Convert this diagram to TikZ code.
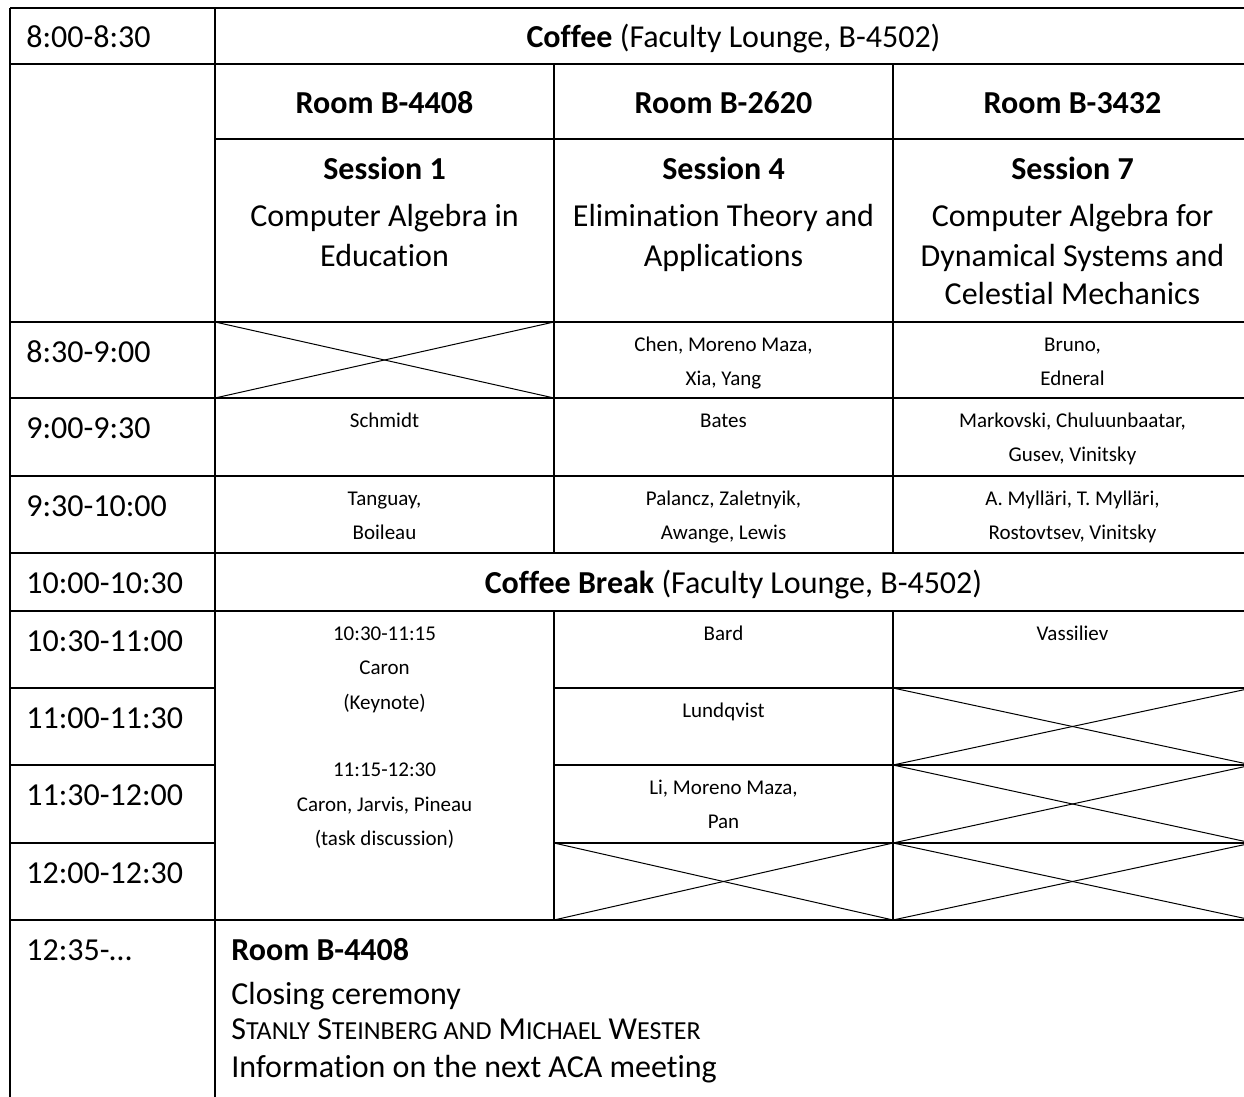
\documentclass[tikz,border=0pt]{standalone}
\usepackage{fontspec}
\setmainfont{Carlito}[Ligatures=CommonOff]
\begin{document}
\begin{tikzpicture}[x=0.5pt,y=-0.5pt,
  tl/.style={line width=0.8pt},
  xl/.style={line width=0.5pt},
  big/.style={font=\fontsize{16}{19}\selectfont, inner sep=0pt, anchor=base},
  bigb/.style={font=\fontsize{16}{19}\selectfont\bfseries, inner sep=0pt, anchor=base},
  sm/.style={font=\fontsize{10.5}{12}\selectfont, inner sep=0pt, anchor=base},
  tm/.style={big, anchor=base west}]
\useasboundingbox (0,0) rectangle (1244,1097);
\clip (0,0) rectangle (1244,1097);
% ---------- grid lines ----------
\draw[tl] (10,8) -- (1252,8);
\draw[tl] (10,64) -- (1252,64);
\draw[tl] (215,139) -- (1252,139);
\foreach \y in {322,398,476,553,611,920} \draw[tl] (10,\y) -- (1252,\y);
\foreach \y in {688,765,843} {\draw[tl] (10,\y) -- (215,\y); \draw[tl] (554,\y) -- (1252,\y);}
\draw[tl] (10,8) -- (10,1110);
\draw[tl] (215,8) -- (215,1110);
\foreach \x in {554,893} {\draw[tl] (\x,64) -- (\x,553); \draw[tl] (\x,611) -- (\x,920);}
\draw[tl] (1252,8) -- (1252,920);
% ---------- crossed cells ----------
\foreach \a/\b/\t/\u in {215/554/322/398, 893/1252/688/765, 893/1252/765/843, 554/893/843/920, 893/1252/843/920}
  {\draw[xl] (\a,\t) -- (\b,\u); \draw[xl] (\a,\u) -- (\b,\t);}
% ---------- time column ----------
\node[tm] (t0) at (26,48) {8:00-8:30};
\node[tm] (t1) at (26,362) {8:30-9:00};
\node[tm] (t2) at (26,438) {9:00-9:30};
\node[tm] (t3) at (26,516) {9:30-10:00};
\node[tm] (t4) at (26,593) {10:00-10:30};
\node[tm] (t5) at (26,651) {10:30-11:00};
\node[tm] (t6) at (26,728) {11:00-11:30};
\node[tm] (t7) at (26,805) {11:30-12:00};
\node[tm] (t8) at (26,883) {12:00-12:30};
\node[tm] (t9) at (26,960) {12:35-\dots};
% ---------- headers ----------
\node[big] (coffee) at (733.5,48) {\textbf{Coffee} (Faculty Lounge, B-4502)};
\node[bigb] (r1) at (384.5,114) {Room B-4408};
\node[bigb] (r2) at (723.5,114) {Room B-2620};
\node[bigb] (r3) at (1072.5,114) {Room B-3432};
\node[bigb] (s1) at (384.5,180) {Session 1};
\node[bigb] (s4) at (723.5,180) {Session 4};
\node[bigb] (s7) at (1072.5,180) {Session 7};
\node[big] (s1a) at (384.5,227) {Computer Algebra in};
\node[big] (s1b) at (384.5,266) {Education};
\node[big] (s4a) at (723.5,227) {Elimination Theory and};
\node[big] (s4b) at (723.5,266) {Applications};
\node[big] (s7a) at (1072.5,227) {Computer Algebra for};
\node[big] (s7b) at (1072.5,266) {Dynamical Systems and};
\node[big] (s7c) at (1072.5,305) {Celestial Mechanics};
% ---------- talks ----------
\node[sm] (c2a) at (723.5,351) {Chen, Moreno Maza,};
\node[sm] (c2b) at (723.5,385) {Xia, Yang};
\node[sm] (c3a) at (1072.5,351) {Bruno,};
\node[sm] (c3b) at (1072.5,385) {Edneral};
\node[sm] (d1) at (384.5,427) {Schmidt};
\node[sm] (d2) at (723.5,427) {Bates};
\node[sm] (d3a) at (1072.5,427) {Markovski, Chuluunbaatar,};
\node[sm] (d3b) at (1072.5,461) {Gusev, Vinitsky};
\node[sm] (e1a) at (384.5,505) {Tanguay,};
\node[sm] (e1b) at (384.5,539) {Boileau};
\node[sm] (e2a) at (723.5,505) {Palancz, Zaletnyik,};
\node[sm] (e2b) at (723.5,539) {Awange, Lewis};
\node[sm] (e3a) at (1072.5,505) {A. Mylläri, T. Mylläri,};
\node[sm] (e3b) at (1072.5,539) {Rostovtsev, Vinitsky};
\node[big] (brk) at (733.5,593) {\textbf{Coffee Break} (Faculty Lounge, B-4502)};
\node[sm] (k1) at (384.5,640) {10:30-11:15};
\node[sm] (k2) at (384.5,674) {Caron};
\node[sm] (k3) at (384.5,709) {(Keynote)};
\node[sm] (k4) at (384.5,776) {11:15-12:30};
\node[sm] (k5) at (384.5,811) {Caron, Jarvis, Pineau};
\node[sm] (k6) at (384.5,845) {(task discussion)};
\node[sm] (f2) at (723.5,640) {Bard};
\node[sm] (f3) at (1072.5,640) {Vassiliev};
\node[sm] (g2) at (723.5,717) {Lundqvist};
\node[sm] (h2a) at (723.5,794) {Li, Moreno Maza,};
\node[sm] (h2b) at (723.5,828) {Pan};
% ---------- closing ----------
\node[bigb, anchor=base west] (cr) at (231,960) {Room B-4408};
\node[big, anchor=base west] (cc) at (231,1004) {Closing ceremony};
\node[anchor=base west, inner sep=0pt] (cn) at (231,1039) {\fontsize{16}{19}\selectfont S{\fontsize{13}{15}\selectfont TANLY} S{\fontsize{13}{15}\selectfont TEINBERG AND} M{\fontsize{13}{15}\selectfont ICHAEL} W{\fontsize{13}{15}\selectfont ESTER}};
\node[big, anchor=base west] (ci) at (231,1077) {Information on the next ACA meeting};
\end{tikzpicture}
\end{document}
